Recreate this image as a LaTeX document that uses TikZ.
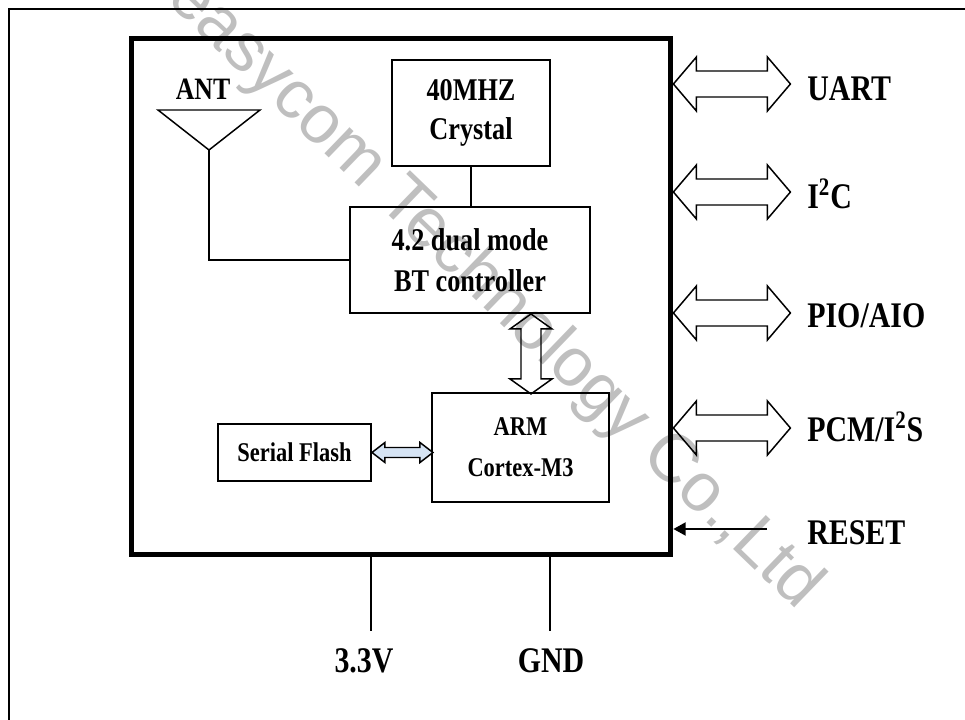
\documentclass[tikz,border=0pt]{standalone}
\usepackage{fontspec}
\setmainfont{Liberation Serif}[FakeStretch=0.83]
\newfontfamily\markfont{Liberation Sans}
\usepackage{tikz}
\usetikzlibrary{calc,positioning,arrows.meta}

\tikzset{
  box/.style={draw, line width=1.1pt, inner sep=0pt, align=center},
  wire/.style={line width=0.85pt},
  bus/.style={line width=0.85pt, line join=miter},
  pin/.style={anchor=base west, inner xsep=0pt, font=\fontsize{20.5}{24}\selectfont\bfseries},
  rail/.style={anchor=base, font=\fontsize{20.5}{24}\selectfont\bfseries},
}

% open double arrow from the chip edge, 117 px long
\newcommand{\busarrow}[1]{%
  \draw[bus] (#1) -- ++(23,-27) -- ++(0,14) -- ++(71,0) -- ++(0,-14)
    -- ++(23,27) -- ++(-23,27) -- ++(0,-14) -- ++(-71,0) -- ++(0,14) -- cycle;}

\begin{document}
\begin{tikzpicture}[x=0.02cm, y=-0.02cm]
    \useasboundingbox (0,0) rectangle (965,720);
    \node[rotate=-44, text=black!25, font=\markfont\fontsize{39}{39}\selectfont] (mark) at (494,293) {easycom Technology Co.,Ltd};
    \draw[line width=1.1pt] (9,720) |- (965,9);

    % module outline and blocks
    \node[draw, line width=2.8pt, minimum width=10.8cm, minimum height=10.34cm] (chip) at (401,296.5) {};
    \node[box, minimum width=3.16cm, minimum height=2.12cm, font=\fontsize{18}{22.5}\selectfont\bfseries] (crystal) at (471,113) {40MHZ\\Crystal};
    \node[box, minimum width=4.8cm, minimum height=2.12cm, font=\fontsize{18}{23.5}\selectfont\bfseries] (bt) at (470,260) {4.2 dual mode\\BT controller};
    \node[box, minimum width=3.54cm, minimum height=2.18cm, font=\fontsize{15.4}{23.5}\selectfont\bfseries] (arm) at (520.5,447.5) {ARM\\Cortex-M3};
    \node[box, minimum width=3.06cm, minimum height=1.14cm, font=\fontsize{15.4}{18}\selectfont\bfseries] (flash) at (294.5,452.5) {Serial Flash};

    % antenna
    \node[anchor=base, font=\fontsize{17.7}{20}\selectfont\bfseries] (ant) at (203,99.5) {ANT};
    \draw[wire] (158,110) -- (260,110) -- (209,150) coordinate (feed) -- cycle;
    \draw[wire] (feed) |- (bt.west);
    \draw[wire] (crystal.south) -- (bt.north -| crystal.south);

    % internal links
    \draw[bus] (bt.south -| 531,0) -- ++(21,15) -- ++(-11,0) -- ++(0,50) -- ++(11,0)
      -- ++(-21,15) -- ++(-21,-15) -- ++(11,0) -- ++(0,-50) -- ++(-11,0) -- cycle;
    \draw[bus, fill={rgb,255:red,214;green,228;blue,244}] (flash.east) -- ++(13,-10) -- ++(0,5) -- ++(35,0) -- ++(0,-5)
      -- ++(13,10) -- ++(-13,10) -- ++(0,-5) -- ++(-35,0) -- ++(0,5) -- cycle;

    % interfaces
    \busarrow{chip.east |- 0,84}
    \busarrow{chip.east |- 0,192}
    \busarrow{chip.east |- 0,313}
    \busarrow{chip.east |- 0,428}
    \node[pin] (uart) at (807,100) {UART};
    \node[pin] (i2c) at (807,208.5) {I\textsuperscript{2}C};
    \node[pin] (pio) at (807,327.5) {PIO/AIO};
    \node[pin] (pcm) at (807,441.5) {PCM/I\textsuperscript{2}S};
    \node[pin] (reset) at (807,544.5) {RESET};
    \coordinate (rst) at (767,529);
    \draw[wire, -{Triangle[length=7pt, width=7.5pt]}] (rst) -- (chip.east |- rst);

    % supply
    \coordinate (vcc) at (371,631);
    \coordinate (gnd) at (550,631);
    \draw[wire, line width=1.1pt] (chip.south -| vcc) -- (vcc);
    \draw[wire, line width=1.1pt] (chip.south -| gnd) -- (gnd);
    \node[rail] (vcclabel) at (364,672.5) {3.3V};
    \node[rail] (gndlabel) at (551,672.5) {GND};
  \end{tikzpicture}
\end{document}
